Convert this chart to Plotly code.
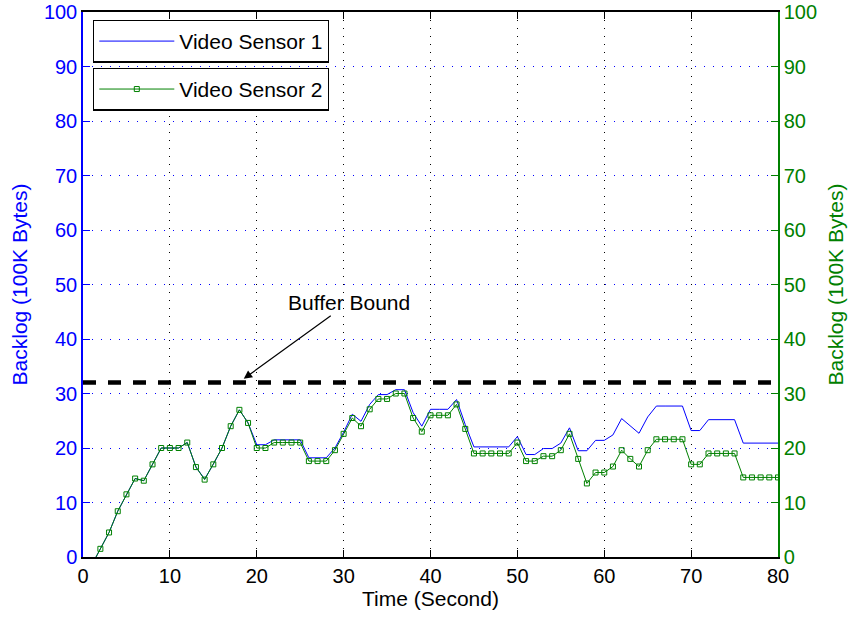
import plotly.graph_objects as go

time_s = list(range(1, 81))

sensor1 = [-1.5, 1.5, 4.5, 8.4, 11.5, 14.4, 14.0, 17.0, 20.0, 20.0,
           20.0, 21.0, 16.5, 14.3, 17.0, 20.0, 24.0, 27.0, 24.6, 20.6,
           20.6, 21.5, 21.5, 21.5, 21.5, 18.2, 18.2, 18.2, 20.0, 22.9,
           26.2, 24.9, 28.0, 29.8, 29.8, 30.7, 30.7, 26.5, 24.0, 27.1,
           27.1, 27.1, 28.9, 24.3, 20.2, 20.2, 20.2, 20.2, 20.2, 22.1,
           18.8, 18.8, 19.9, 19.9, 20.9, 23.7, 19.5, 19.5, 21.4, 21.4,
           22.4, 25.4, 24.0, 22.7, 25.7, 27.7, 27.7, 27.7, 27.7, 23.2,
           23.2, 25.2, 25.2, 25.2, 25.2, 20.9, 20.9, 20.9, 20.9, 20.9]

sensor2 = [-1.5, 1.5, 4.5, 8.4, 11.5, 14.4, 14.0, 17.0, 20.0, 20.0,
           20.0, 21.0, 16.5, 14.2, 17.0, 20.0, 24.0, 27.0, 24.6, 20.0,
           20.0, 21.0, 21.0, 21.0, 21.0, 17.6, 17.6, 17.6, 19.6, 22.6,
           25.5, 24.0, 27.1, 29.0, 29.0, 30.0, 30.0, 25.5, 23.0, 26.0,
           26.0, 26.0, 28.0, 23.5, 19.0, 19.0, 19.0, 19.0, 19.0, 21.0,
           17.6, 17.6, 18.5, 18.5, 19.6, 22.6, 18.0, 13.5, 15.5, 15.5,
           16.6, 19.6, 18.0, 16.6, 19.6, 21.6, 21.6, 21.6, 21.6, 17.0,
           17.0, 19.0, 19.0, 19.0, 19.0, 14.6, 14.6, 14.6, 14.6, 14.6]

bound_x = [0, 80]
bound_y = [32, 32]

x_ticks = list(range(0, 81, 10))
y_ticks = list(range(0, 101, 10))

BLUE = "#0000ff"
GREEN = "#008000"
FONT = "Liberation Sans, Arial, Helvetica, sans-serif"
FS = 20
FT = 21

fig = go.Figure()

fig.add_trace(go.Scatter(
    x=bound_x, y=bound_y, mode="lines", showlegend=False,
    line=dict(color="black", width=4.5, dash="13px,12px"),
    hoverinfo="skip"))

fig.add_trace(go.Scatter(
    x=time_s, y=sensor1, mode="lines", name="Video Sensor 1",
    line=dict(color=BLUE, width=1), legend="legend"))

fig.add_trace(go.Scatter(
    x=time_s, y=sensor2, mode="lines+markers", name="Video Sensor 2",
    line=dict(color=GREEN, width=1),
    marker=dict(symbol="square-open", size=5, color=GREEN, line=dict(width=1, color=GREEN)),
    yaxis="y2", legend="legend2"))

fig.add_annotation(
    x=18.5, y=32.7, xref="x", yref="y", text="Buffer Bound",
    showarrow=True, ax=105, ay=-76, arrowhead=2, arrowsize=1.4,
    arrowwidth=1.2, arrowcolor="black",
    font=dict(family=FONT, size=FT, color="black"))

legend_common = dict(
    xanchor="left", yanchor="top", bgcolor="white",
    bordercolor="black", borderwidth=1.3,
    font=dict(family=FONT, size=FT, color="black"),
    itemwidth=75, tracegroupgap=0)

fig.update_layout(
    width=851, height=617,
    margin=dict(l=83, r=73, t=12, b=60, autoexpand=False),
    paper_bgcolor="white", plot_bgcolor="white",
    font=dict(family=FONT, size=FS, color="black"),
    legend=dict(x=0.0144, y=0.986, **legend_common),
    legend2=dict(x=0.0144, y=0.898, **legend_common),
    xaxis=dict(
        range=[0, 80], tickvals=x_ticks, ticks="inside", ticklen=7,
        tickcolor="black", showline=True, linecolor="black", linewidth=1.5,
        mirror="ticks", showgrid=True, gridcolor="black", gridwidth=1,
        griddash="1px,7px", zeroline=False, automargin=False,
        tickfont=dict(family=FONT, size=FS, color="black"),
        title=dict(text="Time (Second)", font=dict(family=FONT, size=FT, color="black"), standoff=6)),
    yaxis=dict(
        range=[0, 100], tickvals=y_ticks, ticks="inside", ticklen=7,
        tickcolor=BLUE, showline=True, linecolor=BLUE, linewidth=1.5,
        showgrid=True, gridcolor=BLUE, gridwidth=1, griddash="1px,8px",
        zeroline=False, automargin=False,
        tickfont=dict(family=FONT, size=FS, color=BLUE),
        title=dict(text="Backlog (100K Bytes)", font=dict(family=FONT, size=FT, color=BLUE), standoff=11)),
    yaxis2=dict(
        range=[0, 100], tickvals=y_ticks, ticks="inside", ticklen=7,
        tickcolor=GREEN, showline=True, linecolor=GREEN, linewidth=1.5,
        overlaying="y", side="right", showgrid=False, zeroline=False,
        automargin=False,
        tickfont=dict(family=FONT, size=FS, color=GREEN),
        title=dict(text="Backlog (100K Bytes)", font=dict(family=FONT, size=FT, color=GREEN), standoff=12)),
)

fig.write_html("out.html")
